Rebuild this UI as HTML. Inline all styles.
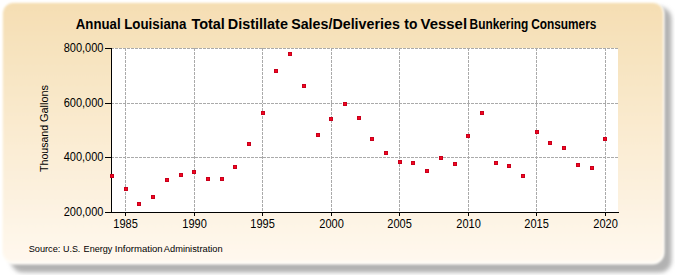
<!DOCTYPE html>
<html><head><meta charset="utf-8"><style>
html,body{margin:0;padding:0;background:#fff;width:675px;height:275px;overflow:hidden}
svg{display:block}
text{font-family:"Liberation Sans",sans-serif}
</style></head><body>
<svg width="675" height="275" viewBox="0 0 675 275">
<defs>
<linearGradient id="bg" x1="0" y1="0" x2="0" y2="1">
<stop offset="0" stop-color="#f5deb3"/>
<stop offset="1" stop-color="#fff8ee"/>
</linearGradient>
<filter id="sh" x="-5%" y="-5%" width="110%" height="110%"><feGaussianBlur stdDeviation="2.1"/></filter><filter id="pb" x="-5%" y="-5%" width="110%" height="110%"><feGaussianBlur stdDeviation="0.8"/></filter>
</defs>
<rect x="0" y="0" width="675" height="275" fill="#fff"/>
<rect x="11" y="7" width="660.5" height="265.5" rx="12" fill="#b2b2b2" filter="url(#sh)"/>
<rect x="2" y="2" width="662.5" height="262.5" rx="12" fill="#fffdf8" filter="url(#pb)"/>
<rect x="3" y="3" width="660" height="258.5" rx="10" fill="url(#bg)" filter="url(#pb)"/>
<rect x="111" y="48" width="507" height="165" fill="#fff"/>
<g stroke="#aaa" stroke-width="1" stroke-dasharray="3 1" fill="none"><line x1="111" y1="48.5" x2="618" y2="48.5"/><line x1="111" y1="103.5" x2="618" y2="103.5"/><line x1="111" y1="157.5" x2="618" y2="157.5"/><line x1="125.5" y1="48" x2="125.5" y2="212"/><line x1="194.5" y1="48" x2="194.5" y2="212"/><line x1="262.5" y1="48" x2="262.5" y2="212"/><line x1="331.5" y1="48" x2="331.5" y2="212"/><line x1="399.5" y1="48" x2="399.5" y2="212"/><line x1="468.5" y1="48" x2="468.5" y2="212"/><line x1="536.5" y1="48" x2="536.5" y2="212"/><line x1="605.5" y1="48" x2="605.5" y2="212"/></g>
<g stroke="#000" stroke-width="1" fill="none"><line x1="105" y1="48.5" x2="111" y2="48.5"/><line x1="105" y1="103.5" x2="111" y2="103.5"/><line x1="105" y1="157.5" x2="111" y2="157.5"/><line x1="105" y1="212.5" x2="111" y2="212.5"/><line x1="125.5" y1="212" x2="125.5" y2="216"/><line x1="194.5" y1="212" x2="194.5" y2="216"/><line x1="262.5" y1="212" x2="262.5" y2="216"/><line x1="331.5" y1="212" x2="331.5" y2="216"/><line x1="399.5" y1="212" x2="399.5" y2="216"/><line x1="468.5" y1="212" x2="468.5" y2="216"/><line x1="536.5" y1="212" x2="536.5" y2="216"/><line x1="605.5" y1="212" x2="605.5" y2="216"/>
<line x1="111.5" y1="48" x2="111.5" y2="213"/>
<line x1="111" y1="212.5" x2="619" y2="212.5"/>
</g>
<g shape-rendering="crispEdges"><rect x="110" y="174" width="4" height="4" fill="#c8001c"/><rect x="111" y="175" width="2" height="2" fill="#f4061e"/><rect x="124" y="187" width="4" height="4" fill="#c8001c"/><rect x="125" y="188" width="2" height="2" fill="#f4061e"/><rect x="137" y="202" width="4" height="4" fill="#c8001c"/><rect x="138" y="203" width="2" height="2" fill="#f4061e"/><rect x="151" y="195" width="4" height="4" fill="#c8001c"/><rect x="152" y="196" width="2" height="2" fill="#f4061e"/><rect x="165" y="178" width="4" height="4" fill="#c8001c"/><rect x="166" y="179" width="2" height="2" fill="#f4061e"/><rect x="179" y="173" width="4" height="4" fill="#c8001c"/><rect x="180" y="174" width="2" height="2" fill="#f4061e"/><rect x="192" y="170" width="4" height="4" fill="#c8001c"/><rect x="193" y="171" width="2" height="2" fill="#f4061e"/><rect x="206" y="177" width="4" height="4" fill="#c8001c"/><rect x="207" y="178" width="2" height="2" fill="#f4061e"/><rect x="220" y="177" width="4" height="4" fill="#c8001c"/><rect x="221" y="178" width="2" height="2" fill="#f4061e"/><rect x="233" y="165" width="4" height="4" fill="#c8001c"/><rect x="234" y="166" width="2" height="2" fill="#f4061e"/><rect x="247" y="142" width="4" height="4" fill="#c8001c"/><rect x="248" y="143" width="2" height="2" fill="#f4061e"/><rect x="261" y="111" width="4" height="4" fill="#c8001c"/><rect x="262" y="112" width="2" height="2" fill="#f4061e"/><rect x="274" y="69" width="4" height="4" fill="#c8001c"/><rect x="275" y="70" width="2" height="2" fill="#f4061e"/><rect x="288" y="52" width="4" height="4" fill="#c8001c"/><rect x="289" y="53" width="2" height="2" fill="#f4061e"/><rect x="302" y="84" width="4" height="4" fill="#c8001c"/><rect x="303" y="85" width="2" height="2" fill="#f4061e"/><rect x="316" y="133" width="4" height="4" fill="#c8001c"/><rect x="317" y="134" width="2" height="2" fill="#f4061e"/><rect x="329" y="117" width="4" height="4" fill="#c8001c"/><rect x="330" y="118" width="2" height="2" fill="#f4061e"/><rect x="343" y="102" width="4" height="4" fill="#c8001c"/><rect x="344" y="103" width="2" height="2" fill="#f4061e"/><rect x="357" y="116" width="4" height="4" fill="#c8001c"/><rect x="358" y="117" width="2" height="2" fill="#f4061e"/><rect x="370" y="137" width="4" height="4" fill="#c8001c"/><rect x="371" y="138" width="2" height="2" fill="#f4061e"/><rect x="384" y="151" width="4" height="4" fill="#c8001c"/><rect x="385" y="152" width="2" height="2" fill="#f4061e"/><rect x="398" y="160" width="4" height="4" fill="#c8001c"/><rect x="399" y="161" width="2" height="2" fill="#f4061e"/><rect x="411" y="161" width="4" height="4" fill="#c8001c"/><rect x="412" y="162" width="2" height="2" fill="#f4061e"/><rect x="425" y="169" width="4" height="4" fill="#c8001c"/><rect x="426" y="170" width="2" height="2" fill="#f4061e"/><rect x="439" y="156" width="4" height="4" fill="#c8001c"/><rect x="440" y="157" width="2" height="2" fill="#f4061e"/><rect x="453" y="162" width="4" height="4" fill="#c8001c"/><rect x="454" y="163" width="2" height="2" fill="#f4061e"/><rect x="466" y="134" width="4" height="4" fill="#c8001c"/><rect x="467" y="135" width="2" height="2" fill="#f4061e"/><rect x="480" y="111" width="4" height="4" fill="#c8001c"/><rect x="481" y="112" width="2" height="2" fill="#f4061e"/><rect x="494" y="161" width="4" height="4" fill="#c8001c"/><rect x="495" y="162" width="2" height="2" fill="#f4061e"/><rect x="507" y="164" width="4" height="4" fill="#c8001c"/><rect x="508" y="165" width="2" height="2" fill="#f4061e"/><rect x="521" y="174" width="4" height="4" fill="#c8001c"/><rect x="522" y="175" width="2" height="2" fill="#f4061e"/><rect x="535" y="130" width="4" height="4" fill="#c8001c"/><rect x="536" y="131" width="2" height="2" fill="#f4061e"/><rect x="548" y="141" width="4" height="4" fill="#c8001c"/><rect x="549" y="142" width="2" height="2" fill="#f4061e"/><rect x="562" y="146" width="4" height="4" fill="#c8001c"/><rect x="563" y="147" width="2" height="2" fill="#f4061e"/><rect x="576" y="163" width="4" height="4" fill="#c8001c"/><rect x="577" y="164" width="2" height="2" fill="#f4061e"/><rect x="590" y="166" width="4" height="4" fill="#c8001c"/><rect x="591" y="167" width="2" height="2" fill="#f4061e"/><rect x="603" y="137" width="4" height="4" fill="#c8001c"/><rect x="604" y="138" width="2" height="2" fill="#f4061e"/></g>
<g font-size="12" fill="#000"><text transform="translate(103.5,52.0) scale(0.92,1)" text-anchor="end">800,000</text><text transform="translate(103.5,107.0) scale(0.92,1)" text-anchor="end">600,000</text><text transform="translate(103.5,161.0) scale(0.92,1)" text-anchor="end">400,000</text><text transform="translate(103.5,216.0) scale(0.92,1)" text-anchor="end">200,000</text><text transform="translate(125.6,227.7) scale(0.92,1)" text-anchor="middle">1985</text><text transform="translate(194.6,227.7) scale(0.92,1)" text-anchor="middle">1990</text><text transform="translate(262.6,227.7) scale(0.92,1)" text-anchor="middle">1995</text><text transform="translate(331.6,227.7) scale(0.92,1)" text-anchor="middle">2000</text><text transform="translate(399.6,227.7) scale(0.92,1)" text-anchor="middle">2005</text><text transform="translate(468.6,227.7) scale(0.92,1)" text-anchor="middle">2010</text><text transform="translate(536.6,227.7) scale(0.92,1)" text-anchor="middle">2015</text><text transform="translate(605.6,227.7) scale(0.92,1)" text-anchor="middle">2020</text></g>
<g font-size="13.8" font-weight="bold" fill="#000"><text transform="translate(75.8,29.1) scale(0.9587,1)">Annual</text><text transform="translate(124.23,29.1) scale(0.9656,1)">Louisiana</text><text transform="translate(191.4,29.1) scale(1.0484,1)">Total</text><text transform="translate(227.86,29.1) scale(1.0446,1)">Distillate</text><text transform="translate(291.17,29.1) scale(1.0346,1)">Sales/Deliveries</text><text transform="translate(404.3,29.1) scale(1.0,1)">to</text><text transform="translate(420.6,29.1) scale(1.081,1)">Vessel</text><text transform="translate(469.54,29.1) scale(0.8621,1)">Bunkering</text><text transform="translate(531.14,29.1) scale(0.86,1)">Consumers</text></g>
<g font-size="11" fill="#000" transform="translate(47.8,0) rotate(-90)"><text transform="translate(-171.9,0) scale(0.9604,1)">Thousand</text><text transform="translate(-122.0,0) scale(0.9946,1)">Gallons</text></g>
<g font-size="9.2" fill="#000"><text transform="translate(28.7,252.4) scale(1.0017,1)">Source:</text><text transform="translate(62.92,252.4) scale(0.975,1)">U.S.</text><text transform="translate(83.61,252.4) scale(0.9893,1)">Energy</text><text transform="translate(114.86,252.4) scale(1.0409,1)">Information</text><text transform="translate(163.8,252.4) scale(1.0103,1)">Administration</text></g>
</svg>
</body></html>
